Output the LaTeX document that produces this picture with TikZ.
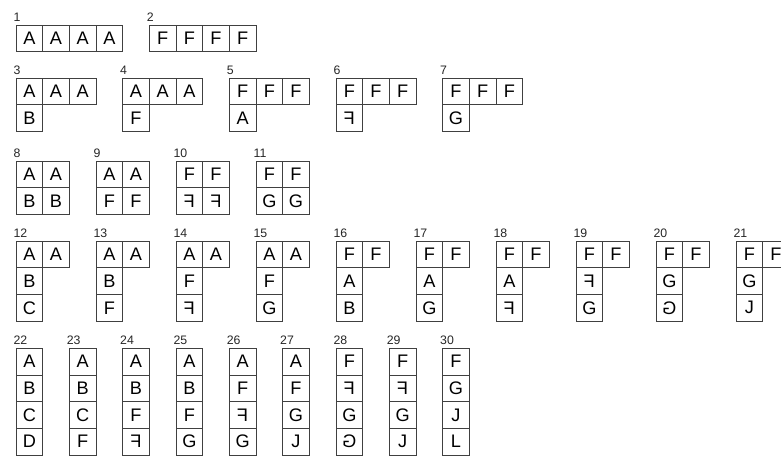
\documentclass[tikz,border=0pt]{standalone}
\usepackage{graphicx}
\usepackage{fontspec}
\setmainfont{Liberation Sans}
\usetikzlibrary{positioning}

\newcommand{\mF}{\reflectbox{F}}
\newcommand{\mG}{\reflectbox{G}}

\tikzset{
  cell/.style={draw=black!75,line width=0.7pt,minimum size=0.8cm,inner sep=0pt,outer sep=0pt,
    font=\fontsize{15.5}{15.5}\selectfont},
  num/.style={font=\fontsize{10.5}{10.5}\selectfont,inner sep=0pt,anchor=south west,text=black!85}
}

\begin{document}
\begin{tikzpicture}
  \useasboundingbox (0,0) rectangle (23.43,-13.68);
  % row 1: four in a line
  \foreach \n/\k/\a in {1/0/A,2/5/F} {
    \node[cell] (f\n-1) at ({0.88+0.8*\k},-1.155) {\a};
    \foreach \i [count=\j from 2] in {1,2,3} \node[cell,right=0pt of f\n-\i] (f\n-\j) {\a};
    \node[num] (n\n) at ([xshift=-0.08cm,yshift=0.1cm]f\n-1.north west) {\n};
  }
  % row 2: three in a line, one below
  \foreach \n/\k/\a/\b in {3/0/A/B,4/4/A/F,5/8/F/A,6/12/F/\mF,7/16/F/G} {
    \node[cell] (f\n-1) at ({0.88+0.8*\k},-2.745) {\a};
    \node[cell,right=0pt of f\n-1] (f\n-2) {\a};
    \node[cell,right=0pt of f\n-2] (f\n-3) {\a};
    \node[cell,below=0pt of f\n-1] (f\n-4) {\b};
    \node[num] (n\n) at ([xshift=-0.08cm,yshift=0.1cm]f\n-1.north west) {\n};
  }
  % row 3: two by two
  \foreach \n/\k/\a/\b in {8/0/A/B,9/3/A/F,10/6/F/\mF,11/9/F/G} {
    \node[cell] (f\n-1) at ({0.88+0.8*\k},-5.235) {\a};
    \node[cell,right=0pt of f\n-1] (f\n-2) {\a};
    \node[cell,below=0pt of f\n-1] (f\n-3) {\b};
    \node[cell,below=0pt of f\n-2] (f\n-4) {\b};
    \node[num] (n\n) at ([xshift=-0.08cm,yshift=0.1cm]f\n-1.north west) {\n};
  }
  % row 4: two in a line, two below
  \foreach \n/\k/\a/\b/\c in {12/0/A/B/C,13/3/A/B/F,14/6/A/F/\mF,15/9/A/F/G,16/12/F/A/B,
      17/15/F/A/G,18/18/F/A/\mF,19/21/F/\mF/G,20/24/F/G/\mG,21/27/F/G/J} {
    \node[cell] (f\n-1) at ({0.88+0.8*\k},-7.635) {\a};
    \node[cell,right=0pt of f\n-1] (f\n-2) {\a};
    \node[cell,below=0pt of f\n-1] (f\n-3) {\b};
    \node[cell,below=0pt of f\n-3] (f\n-4) {\c};
    \node[num] (n\n) at ([xshift=-0.08cm,yshift=0.1cm]f\n-1.north west) {\n};
  }
  % row 5: four in a column
  \foreach \n/\k/\a/\b/\c/\d in {22/0/A/B/C/D,23/2/A/B/C/F,24/4/A/B/F/\mF,25/6/A/B/F/G,
      26/8/A/F/\mF/G,27/10/A/F/G/J,28/12/F/\mF/G/\mG,29/14/F/\mF/G/J,30/16/F/G/J/L} {
    \node[cell] (f\n-1) at ({0.88+0.8*\k},-10.85) {\a};
    \node[cell,below=0pt of f\n-1] (f\n-2) {\b};
    \node[cell,below=0pt of f\n-2] (f\n-3) {\c};
    \node[cell,below=0pt of f\n-3] (f\n-4) {\d};
    \node[num] (n\n) at ([xshift=-0.08cm,yshift=0.1cm]f\n-1.north west) {\n};
  }
\end{tikzpicture}
\end{document}
